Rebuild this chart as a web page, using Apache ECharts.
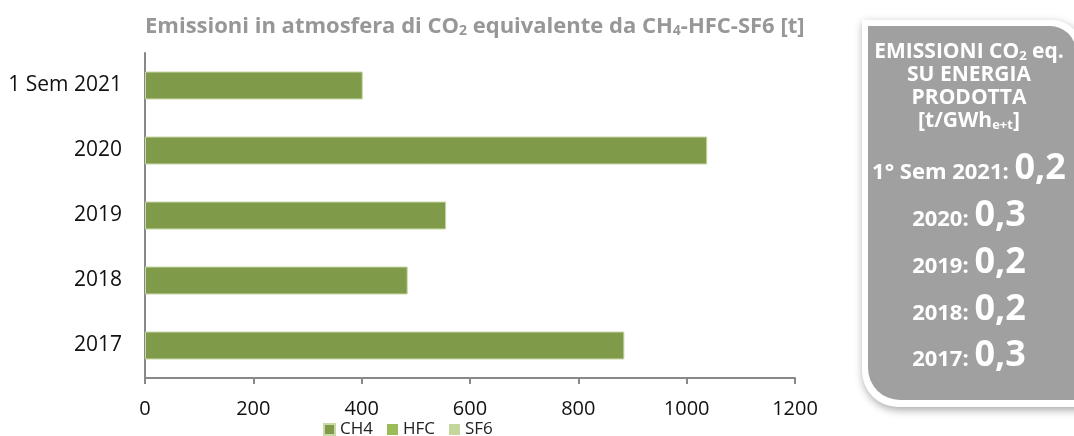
<!DOCTYPE html>
<html><head><meta charset="utf-8">
<script src="https://cdn.jsdelivr.net/npm/echarts@6/dist/echarts.min.js"></script>
<style>html,body{margin:0;padding:0;background:#fff}#c{width:1074px;height:436px}</style>
</head><body><div id="c"></div>
<script>
const categories = ['2017', '2018', '2019', '2020', '1 Sem 2021'];
const ch4 = [885, 485, 556, 1038, 402];
const hfc = [0, 0, 0, 0, 0];
const sf6 = [0, 0, 0, 0, 0];
const xTicks = [0, 200, 400, 600, 800, 1000, 1200];
const boxPeriods = ['1° Sem 2021', '2020', '2019', '2018', '2017'];
const boxValues = ['0,2', '0,3', '0,2', '0,2', '0,3'];

const FONT = '"Open Sans", Lato, sans-serif';
const chart = echarts.init(document.getElementById('c'), null, {renderer: 'canvas'});

const graphics = [
  {type: 'text', left: 145, top: 16, style: {
    text: 'Emissioni in atmosfera di CO{s|2} equivalente da CH{s|4}-HFC-SF6 [t]',
    fill: '#979797', font: 'bold 22px ' + FONT,
    rich: {s: {fontSize: 14, fontWeight: 'bold', fontFamily: FONT, fill: '#979797', padding: [9, 0, 0, 0]}}
  }},
  {type: 'rect', shape: {x: 862, y: 20, width: 220, height: 387, r: [0, 30, 0, 36]},
   style: {fill: '#ffffff', shadowBlur: 8, shadowColor: 'rgba(0,0,0,0.35)', shadowOffsetX: 1, shadowOffsetY: 3}},
  {type: 'rect', shape: {x: 868, y: 26, width: 208, height: 374, r: [0, 26, 0, 32]},
   style: {fill: '#a0a0a0'}},
  {type: 'text', x: 969, y: 41, style: {
    text: 'EMISSIONI CO{s|2} eq.\nSU ENERGIA\nPRODOTTA\n[t/GWh{s|e+t}]',
    fill: '#ffffff', font: 'bold 21px ' + FONT, align: 'center', lineHeight: 23,
    rich: {s: {fontSize: 13, fontWeight: 'bold', fontFamily: FONT, fill: '#ffffff', padding: [8, 0, 0, 0]}}
  }}
];
const rowY = [169, 216, 263, 310, 356];
boxPeriods.forEach((p, i) => {
  graphics.push({type: 'text', x: 969, y: rowY[i], style: {
    text: '{a|' + p + ': }{b|' + boxValues[i] + '}',
    align: 'center', verticalAlign: 'middle',
    rich: {
      a: {fontSize: 22, fontWeight: 'bold', fontFamily: FONT, fill: '#ffffff', padding: [8, 0, 0, 0]},
      b: {fontSize: 36, fontWeight: 'bold', fontFamily: FONT, fill: '#ffffff'}
    }
  }});
});

chart.setOption({
  animation: false,
  grid: {left: 145, right: 279, top: 53, bottom: 58, containLabel: false},
  legend: {
    left: 318, top: 416, itemWidth: 11, itemHeight: 11, itemGap: 14,
    icon: 'rect',
    textStyle: {fontFamily: FONT, fontSize: 17, color: '#222', padding: [0, 0, 0, 0]},
    data: ['CH4', 'HFC', 'SF6']
  },
  xAxis: {
    type: 'value', min: xTicks[0], max: xTicks[xTicks.length - 1], interval: 200,
    axisLine: {show: true, lineStyle: {color: '#888', width: 2}},
    axisTick: {show: true, length: 6, lineStyle: {color: '#888', width: 2}},
    splitLine: {show: false},
    axisLabel: {fontFamily: FONT, fontSize: 20, color: '#111', margin: 21, formatter: v => String(v)}
  },
  yAxis: {
    type: 'category', data: categories,
    axisLine: {show: true, lineStyle: {color: '#888', width: 2}},
    axisTick: {show: false},
    axisLabel: {fontFamily: FONT, fontSize: 21, color: '#111', margin: 23}
  },
  series: [
    {name: 'CH4', type: 'bar', stack: 't', data: ch4, barWidth: 28,
     itemStyle: {color: '#7f9b4a', borderColor: '#c9d8a8', borderWidth: 1}},
    {name: 'HFC', type: 'bar', stack: 't', data: hfc, barWidth: 28, itemStyle: {color: '#9bbb59'}},
    {name: 'SF6', type: 'bar', stack: 't', data: sf6, barWidth: 28, itemStyle: {color: '#c3d69b'}}
  ],
  graphic: graphics
});
</script></body></html>
